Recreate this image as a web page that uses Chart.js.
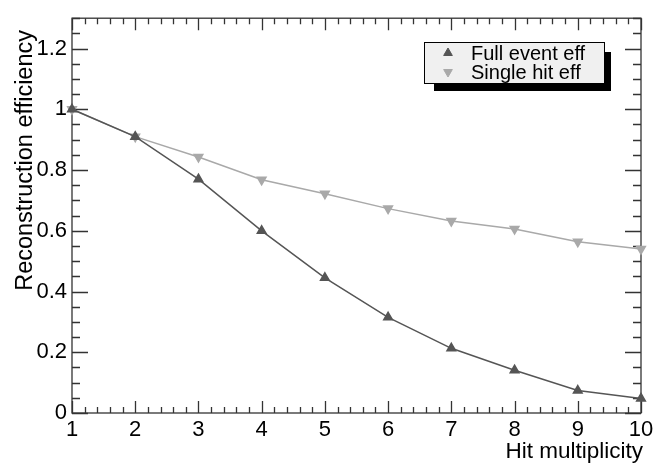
<!DOCTYPE html>
<html>
<head>
<meta charset="utf-8">
<script src="https://cdn.jsdelivr.net/npm/chart.js@4.4.1/dist/chart.umd.min.js"></script>
<style>
  html, body { margin: 0; padding: 0; background: #fff; }
</style>
</head>
<body>
<canvas id="effChart" width="660" height="464"></canvas>
<script>
const hitMultiplicity = [1, 2, 3, 4, 5, 6, 7, 8, 9, 10];
const fullEventEff = [1.0, 0.91, 0.77, 0.60, 0.445, 0.315, 0.213, 0.141, 0.074, 0.048];
const singleHitEff = [1.0, 0.91, 0.843, 0.768, 0.722, 0.673, 0.632, 0.606, 0.564, 0.54];
const yTickValues = [0, 0.2, 0.4, 0.6, 0.8, 1, 1.2];
const xTickValues = [1, 2, 3, 4, 5, 6, 7, 8, 9, 10];
const seriesNames = ['Full event eff', 'Single hit eff'];
const xTitle = 'Hit multiplicity';
const yTitle = 'Reconstruction efficiency';

const FONT = '"Liberation Sans", Arial, Helvetica, sans-serif';
const fullColor = '#555555';
const singleColor = '#a9a9a9';

// ROOT-style frame with inward ticks on all four sides
const framePlugin = {
    id: 'frame',
    beforeDatasetsDraw(chart) {
        const { ctx, chartArea: a, scales: { x, y } } = chart;
        ctx.save();
        ctx.strokeStyle = '#333';
        ctx.lineWidth = 1.3;
        ctx.strokeRect(a.left, a.top, a.right - a.left, a.bottom - a.top);
        ctx.beginPath();
        for (let i = 0; i <= 45; i++) {
            const px = Math.round(x.getPixelForValue(1 + i * 0.2)) + 0.5;
            const len = i % 5 === 0 ? 12 : 6;
            ctx.moveTo(px, a.bottom); ctx.lineTo(px, a.bottom - len);
            ctx.moveTo(px, a.top); ctx.lineTo(px, a.top + len);
        }
        for (let i = 0; i <= 26; i++) {
            const py = Math.round(y.getPixelForValue(i * 0.05)) + 0.5;
            const len = i % 4 === 0 ? 16 : 8;
            ctx.moveTo(a.left, py); ctx.lineTo(a.left + len, py);
            ctx.moveTo(a.right, py); ctx.lineTo(a.right - len, py);
        }
        ctx.stroke();
        ctx.restore();
    },
    afterDraw(chart) {
        const { ctx, chartArea: a } = chart;
        ctx.save();
        ctx.fillStyle = '#000';
        ctx.textAlign = 'right';
        ctx.textBaseline = 'alphabetic';
        ctx.font = '22.5px ' + FONT;
        ctx.fillText(xTitle, a.right + 2, 458);
        ctx.font = '23.5px ' + FONT;
        ctx.translate(32, 30);
        ctx.rotate(-Math.PI / 2);
        ctx.fillText(yTitle, 0, 0);
        ctx.restore();
    }
};

// legend box with drop shadow
const legendPlugin = {
    id: 'rootLegend',
    afterDraw(chart) {
        const { ctx } = chart;
        const bx = 424, by = 42, bw = 180, bh = 41;
        ctx.save();
        ctx.fillStyle = '#000';
        ctx.fillRect(bx + 10, by + 10, bw - 3, bh - 2);
        ctx.fillStyle = '#f0f0f0';
        ctx.fillRect(bx, by, bw, bh);
        ctx.strokeStyle = '#000';
        ctx.lineWidth = 1;
        ctx.strokeRect(bx + 0.5, by + 0.5, bw, bh);
        ctx.font = '20px ' + FONT;
        ctx.textAlign = 'left';
        ctx.textBaseline = 'middle';
        chart.data.datasets.forEach((ds, i) => {
            const yy = by + 11 + i * 19;
            ctx.fillStyle = ds.pointBackgroundColor;
            ctx.strokeStyle = ds.pointBorderColor;
            Chart.helpers.drawPoint(ctx, { pointStyle: 'triangle', radius: 5, rotation: ds.pointRotation, borderWidth: 1 }, bx + 24, yy);
            ctx.fillStyle = '#000';
            ctx.fillText(ds.label, bx + 47, yy + 1);
        });
        ctx.restore();
    }
};

const fmt = v => String(Math.round(v * 10) / 10);

new Chart(document.getElementById('effChart'), {
    type: 'line',
    data: {
        datasets: [
            {
                label: seriesNames[0],
                data: hitMultiplicity.map((h, i) => ({ x: h, y: fullEventEff[i] })),
                borderColor: fullColor, borderWidth: 1.5,
                pointStyle: 'triangle', pointRadius: 5, pointRotation: 0,
                pointBackgroundColor: fullColor, pointBorderColor: fullColor,
                tension: 0, clip: false
            },
            {
                label: seriesNames[1],
                data: hitMultiplicity.map((h, i) => ({ x: h, y: singleHitEff[i] })),
                borderColor: singleColor, borderWidth: 1.5,
                pointStyle: 'triangle', pointRadius: 5, pointRotation: 180,
                pointBackgroundColor: singleColor, pointBorderColor: singleColor,
                tension: 0, clip: false
            }
        ]
    },
    options: {
        responsive: false, animation: false,
        layout: { padding: { top: 14, right: 19, left: 0, bottom: 0 } },
        plugins: { legend: { display: false }, tooltip: { enabled: false } },
        scales: {
            x: {
                type: 'linear', min: 1, max: 10,
                grid: { display: false, drawTicks: false }, border: { display: false },
                afterBuildTicks: s => { s.ticks = xTickValues.map(v => ({ value: v })); },
                afterFit: s => { s.height = 51; },
                ticks: { color: '#000', font: { family: FONT, size: 22 }, padding: 4, maxRotation: 0, callback: fmt }
            },
            y: {
                type: 'linear', min: 0, max: 1.3,
                grid: { display: false, drawTicks: false }, border: { display: false },
                afterBuildTicks: s => { s.ticks = yTickValues.map(v => ({ value: v })); },
                afterFit: s => { s.width = 72; },
                ticks: { color: '#000', font: { family: FONT, size: 22 }, padding: 5, callback: fmt }
            }
        }
    },
    plugins: [framePlugin, legendPlugin]
});
</script>
</body>
</html>
